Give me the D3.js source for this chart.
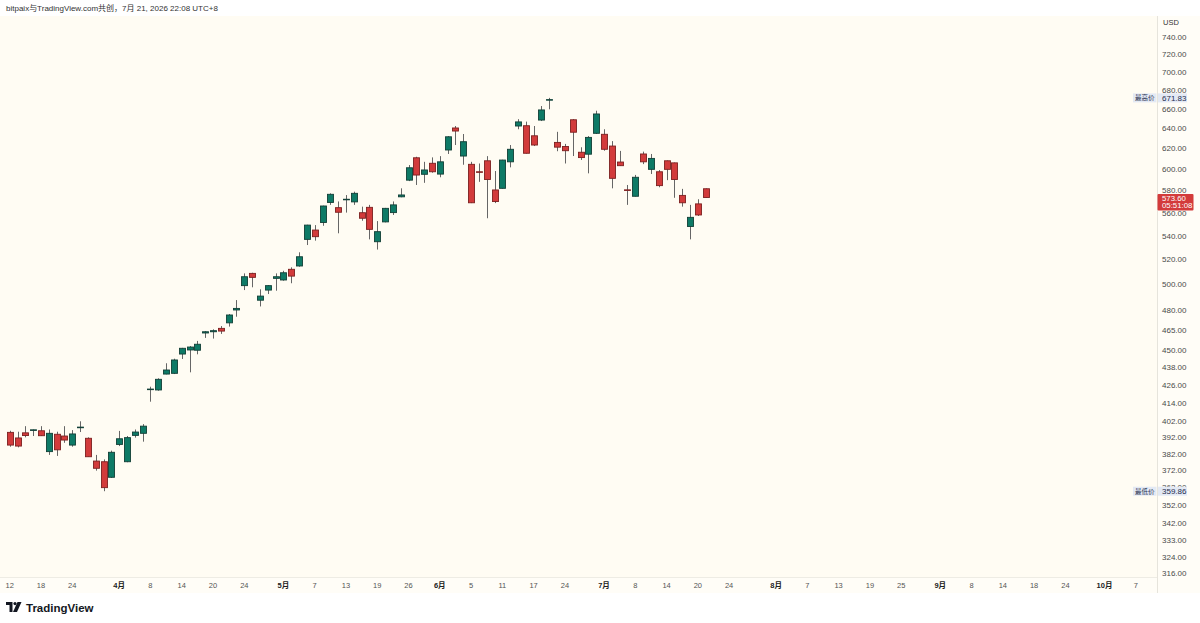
<!DOCTYPE html>
<html>
<head>
<meta charset="utf-8">
<script src="https://cdn.jsdelivr.net/npm/d3@7"></script>
<style>
  body { margin: 0; background: #ffffff; }
  svg { display: block; font-family: "Liberation Sans", "Noto Sans CJK SC", sans-serif; }
</style>
</head>
<body>
<div id="chart"></div>
<script>
// trading days shown as candles
const dates = [
  "2026-03-12","2026-03-13","2026-03-16","2026-03-17","2026-03-18","2026-03-19","2026-03-20","2026-03-23","2026-03-24","2026-03-25","2026-03-26","2026-03-27","2026-03-30","2026-03-31",
  "2026-04-01","2026-04-02","2026-04-06","2026-04-07","2026-04-08","2026-04-09","2026-04-10","2026-04-13","2026-04-14","2026-04-15","2026-04-16","2026-04-17","2026-04-20","2026-04-21","2026-04-22","2026-04-23","2026-04-24","2026-04-27","2026-04-28","2026-04-29","2026-04-30",
  "2026-05-01","2026-05-04","2026-05-05","2026-05-06","2026-05-07","2026-05-08","2026-05-11","2026-05-12","2026-05-13","2026-05-14","2026-05-15","2026-05-18","2026-05-19","2026-05-20","2026-05-21","2026-05-22","2026-05-26","2026-05-27","2026-05-28","2026-05-29",
  "2026-06-01","2026-06-02","2026-06-03","2026-06-04","2026-06-05","2026-06-08","2026-06-09","2026-06-10","2026-06-11","2026-06-12","2026-06-15","2026-06-16","2026-06-17","2026-06-18","2026-06-22","2026-06-23","2026-06-24","2026-06-25","2026-06-26","2026-06-29","2026-06-30",
  "2026-07-01","2026-07-02","2026-07-06","2026-07-07","2026-07-08","2026-07-09","2026-07-10","2026-07-13","2026-07-14","2026-07-15","2026-07-16","2026-07-17","2026-07-20","2026-07-21"
];
const open = [
  395.1,391.6,394.8,396.3,396.1,383.2,393.9,392.8,387.2,398.0,391.4,377.5,377.1,367.9,
  387.6,377.1,393.2,394.5,422.8,422.6,433.4,433.9,447.4,450.3,450.1,462.6,463.5,466.0,470.1,479.8,498.7,508.5,487.3,495.2,504.5,
  503.2,511.8,514.5,536.7,544.7,551.3,569.1,564.4,571.6,569.6,559.9,564.7,534.7,551.8,560.0,574.2,589.6,610.9,595.1,605.6,
  595.3,618.5,640.5,612.6,604.6,597.5,608.0,580.5,582.0,607.0,642.5,642.8,632.6,648.6,669.6,626.0,621.9,648.9,616.3,614.4,635.1,
  634.1,622.4,606.8,580.6,574.7,614.6,599.8,597.5,608.0,606.0,575.5,547.8,567.8,581.6
];
const high = [
  396.1,395.5,399.0,396.9,399.0,396.9,395.5,399.0,396.5,402.1,392.0,381.2,378.5,383.8,
  396.0,392.8,396.9,400.3,424.8,430.5,440.9,444.1,451.8,453.1,456.8,464.0,465.3,467.7,476.7,487.4,508.5,509.0,495.8,499.2,508.5,
  510.6,513.4,525.8,549.3,549.0,566.2,577.4,570.0,575.8,578.9,565.3,566.9,552.5,564.2,570.0,582.0,603.9,611.9,607.0,611.3,
  612.5,632.3,642.5,634.4,607.0,605.4,612.5,598.2,609.0,623.4,649.5,647.0,642.5,663.2,671.83,636.6,624.5,649.6,621.2,632.3,658.3,
  639.2,627.3,617.6,585.1,594.5,616.9,614.6,599.1,608.3,606.3,581.5,566.9,572.0,581.9
];
const low = [
  386.2,385.8,392.0,392.8,392.8,381.2,380.6,388.6,386.2,395.3,380.1,371.8,359.86,367.5,
  386.6,376.8,391.8,389.3,414.8,422.1,433.2,433.4,443.9,434.6,447.2,459.0,458.5,461.9,467.3,474.7,495.2,497.4,482.5,492.1,494.7,
  502.6,500.6,513.9,531.9,535.6,548.4,566.9,541.9,560.0,566.9,552.8,536.7,528.1,551.4,557.9,573.8,588.7,585.1,587.1,596.6,
  592.3,614.6,623.4,604.2,568.5,588.0,555.0,568.5,581.7,601.7,639.2,615.0,622.4,647.6,659.8,617.3,605.4,612.6,608.8,596.0,634.4,
  617.8,582.0,603.0,566.9,574.5,604.8,595.4,583.0,589.6,573.3,565.3,536.7,557.0,573.4
];
const close = [
  387.2,386.6,393.1,396.7,393.0,394.5,384.3,390.3,394.1,398.4,380.1,373.2,361.9,382.8,
  391.1,391.8,395.3,399.0,423.2,429.8,436.2,443.2,451.5,452.4,454.4,463.5,464.3,464.0,476.0,481.0,505.8,505.3,490.5,498.7,505.8,
  509.0,506.3,522.1,549.0,539.0,565.9,576.5,560.3,572.0,577.4,555.0,545.3,543.3,563.8,566.9,575.9,601.3,594.4,599.2,597.5,
  607.0,631.6,637.4,626.7,568.8,597.0,590.2,569.9,608.7,619.2,646.7,615.3,623.4,659.1,670.0,621.3,617.8,636.2,611.1,631.0,654.9,
  619.2,591.3,603.3,580.0,592.3,607.0,610.3,584.5,599.8,590.2,568.8,555.8,557.9,573.6
];

// market holidays skipped on the time axis
const holidays = ["2026-04-03","2026-05-25","2026-06-19","2026-07-03","2026-09-07"];

const timeTicks = [
  ["2026-03-12","12",false],["2026-03-18","18",false],["2026-03-24","24",false],
  ["2026-04-01","4月",true],["2026-04-08","8",false],["2026-04-14","14",false],["2026-04-20","20",false],["2026-04-24","24",false],
  ["2026-05-01","5月",true],["2026-05-07","7",false],["2026-05-13","13",false],["2026-05-19","19",false],["2026-05-26","26",false],
  ["2026-06-01","6月",true],["2026-06-05","5",false],["2026-06-11","11",false],["2026-06-17","17",false],["2026-06-24","24",false],
  ["2026-07-01","7月",true],["2026-07-08","8",false],["2026-07-14","14",false],["2026-07-20","20",false],["2026-07-24","24",false],
  ["2026-08-03","8月",true],["2026-08-07","7",false],["2026-08-13","13",false],["2026-08-19","19",false],["2026-08-25","25",false],
  ["2026-09-01","9月",true],["2026-09-08","8",false],["2026-09-14","14",false],["2026-09-18","18",false],["2026-09-24","24",false],
  ["2026-10-01","10月",true],["2026-10-07","7",false]
];
const priceTicks = [740,720,700,680,660,640,620,600,580,560,540,520,500,480,465,450,438,426,414,402,392,382,372,362,352,342,333,324,316];

const maxPrice = 671.83;
const minPrice = 359.86;
const lastPrice = 573.60;
const countdown = "05:51:08";

const W = 1200, H = 623;
const paneRight = 1157;
const axisTop = 577;

const fmt = d3.utcFormat("%Y-%m-%d");
const calendar = d3.utcDay.range(new Date("2026-03-12T00:00:00Z"), new Date("2026-10-10T00:00:00Z"))
  .filter(d => d.getUTCDay() !== 0 && d.getUTCDay() !== 6)
  .map(fmt)
  .filter(d => !holidays.includes(d));

const x = d3.scalePoint()
  .domain(calendar)
  .range([9.7, 9.7 + (calendar.length - 1) * 7.82]);

const y = d3.scaleLog()
  .domain([316, 740])
  .range([573.1, 37]);

const svg = d3.select("#chart")
  .append("svg")
  .attr("width", W)
  .attr("height", H);

// backgrounds
svg.append("rect").attr("width", W).attr("height", H).attr("fill", "#ffffff");
svg.append("rect").attr("x", 0).attr("y", 16).attr("width", paneRight).attr("height", axisTop - 16).attr("fill", "#fffcf3");
svg.append("rect").attr("x", paneRight).attr("y", 16).attr("width", W - paneRight).attr("height", axisTop).attr("fill", "#fffdf7");
svg.append("rect").attr("x", 0).attr("y", axisTop).attr("width", paneRight).attr("height", 16).attr("fill", "#fffdf7");
svg.append("line").attr("x1", paneRight + 0.5).attr("x2", paneRight + 0.5).attr("y1", 16).attr("y2", axisTop + 16)
  .attr("stroke", "#e6e4dc");
svg.append("line").attr("x1", 0).attr("x2", paneRight).attr("y1", axisTop + 0.5).attr("y2", axisTop + 0.5)
  .attr("stroke", "#eeece4");

// header
svg.append("text")
  .attr("x", 6).attr("y", 11)
  .attr("font-size", 8).attr("fill", "#333")
  .text("bitpaix与TradingView.com共创，7月 21, 2026 22:08 UTC+8");

// price axis
svg.append("g").attr("class", "y-axis").selectAll("text")
  .data(priceTicks)
  .join("text")
  .attr("x", 1162)
  .attr("y", d => y(d) + 3)
  .attr("font-size", 8)
  .attr("fill", "#4a4a4a")
  .text(d => d.toFixed(2));
svg.append("text").attr("x", 1163).attr("y", 25).attr("font-size", 7.5).attr("fill", "#333").text("USD");

// time axis
svg.append("g").selectAll("text")
  .data(timeTicks)
  .join("text")
  .attr("x", d => x(d[0]))
  .attr("y", axisTop + 11)
  .attr("text-anchor", "middle")
  .attr("font-size", 7.5)
  .attr("font-weight", d => d[2] ? "bold" : "normal")
  .attr("fill", d => d[2] ? "#222" : "#555")
  .text(d => d[1]);

// candles
const candles = dates.map((d, i) => ({ date: d, o: open[i], h: high[i], l: low[i], c: close[i] }));
const bodyW = 6;
const cg = svg.append("g").attr("class", "candles")
  .selectAll("g")
  .data(candles)
  .join("g")
  .attr("transform", d => `translate(${Math.round(x(d.date))},0)`);

cg.append("line")
  .attr("x1", 0.5).attr("x2", 0.5)
  .attr("y1", d => y(d.h))
  .attr("y2", d => y(d.l))
  .attr("stroke", "#666")
  .attr("stroke-width", 1);

cg.append("rect")
  .attr("x", -bodyW / 2 + 0.5)
  .attr("y", d => y(Math.max(d.o, d.c)))
  .attr("width", bodyW)
  .attr("height", d => Math.max(0.6, Math.abs(y(d.o) - y(d.c))))
  .attr("fill", d => d.c >= d.o ? "#0e7a66" : "#d23b3b")
  .attr("stroke", d => d.c >= d.o ? "#123f37" : "#7c2020")
  .attr("stroke-width", 0.9);

// high / low markers
function markerLabel(value, name) {
  const yy = y(value);
  const m = svg.append("g");
  m.append("rect").attr("x", 1133).attr("y", yy - 4.5).attr("width", 23.5).attr("height", 9).attr("fill", "#e3e9f4");
  m.append("text").attr("x", 1144.7).attr("y", yy + 2.5).attr("text-anchor", "middle")
    .attr("font-size", 6.5).attr("fill", "#1f2c4c").text(name);
  m.append("rect").attr("x", 1158).attr("y", yy - 4.5).attr("width", 29).attr("height", 9).attr("fill", "#e3e9f4");
  m.append("text").attr("x", 1162).attr("y", yy + 3).attr("font-size", 8).attr("fill", "#1f2c4c").text(value.toFixed(2));
}
markerLabel(maxPrice, "最高价");
markerLabel(minPrice, "最低价");

// last price label
const ly = y(lastPrice);
svg.append("rect").attr("x", paneRight + 0.5).attr("y", ly - 3.5).attr("width", 36).attr("height", 16.5)
  .attr("fill", "#d33b3b").attr("rx", 1);
svg.append("text").attr("x", 1162).attr("y", ly + 3.3).attr("font-size", 7.8).attr("fill", "#fff").text(lastPrice.toFixed(2));
svg.append("text").attr("x", 1162).attr("y", ly + 11).attr("font-size", 7.8).attr("fill", "#fff").text(countdown);

// logo
const logo = svg.append("g").attr("transform", "translate(6,602)");
logo.append("path").attr("d", "M0 0 H6.5 V10 H3.5 V3 H0 Z").attr("fill", "#131722");
logo.append("circle").attr("cx", 9).attr("cy", 1.6).attr("r", 1.6).attr("fill", "#131722");
logo.append("path").attr("d", "M11.5 0 H15.5 L11 10 H7 Z").attr("fill", "#131722");
logo.append("text").attr("x", 20).attr("y", 9.5).attr("font-size", 11.5).attr("font-weight", "bold")
  .attr("fill", "#131722").text("TradingView");
</script>
</body>
</html>
